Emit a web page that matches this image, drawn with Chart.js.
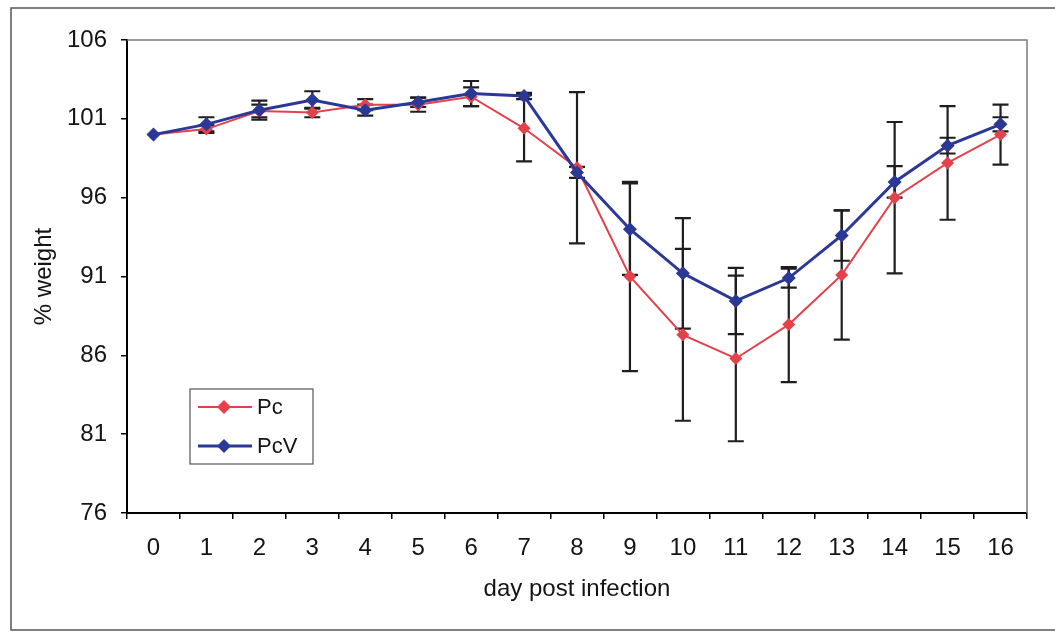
<!DOCTYPE html>
<html>
<head>
<meta charset="utf-8">
<script src="https://cdn.jsdelivr.net/npm/chart.js@4.4.1/dist/chart.umd.min.js"></script>
<style>
  html, body { margin: 0; padding: 0; background: #ffffff; }
  canvas { display: block; }
</style>
</head>
<body>
<canvas id="weightChart" width="1055" height="632"></canvas>
<script>
// Days after infection (category axis)
const days = ['0','1','2','3','4','5','6','7','8','9','10','11','12','13','14','15','16'];

// Mean body weight, % of starting weight
const pcWeight  = [100.0, 100.35, 101.5, 101.4, 101.9, 101.9, 102.4, 100.4, 97.9, 91.0, 87.3, 85.8, 87.95, 91.1, 96.0, 98.2, 100.0];
const pcvWeight = [100.0, 100.65, 101.55, 102.2, 101.55, 102.05, 102.6, 102.45, 97.6, 94.0, 91.2, 89.45, 90.9, 93.6, 97.0, 99.3, 100.65];

// Standard deviation of each mean
const pcError  = [0, 0.25, 0.4, 0.3, 0.35, 0.45, 0.6, 2.1, 4.8, 6.0, 5.45, 5.25, 3.65, 4.1, 4.8, 3.6, 1.9];
const pcvError = [0, 0.45, 0.6, 0.55, 0.35, 0.3, 0.8, 0.2, 0.35, 2.9, 3.5, 2.1, 0.6, 1.6, 1.0, 0.5, 0.45];

// Value axis ticks
const yTicks = [76, 81, 86, 91, 96, 101, 106];

const seriesNames  = ['Pc', 'PcV'];
const seriesColors = ['#e2434a', '#2b3896'];

const FONT = "'Liberation Sans', Arial, Helvetica, sans-serif";
const INK = '#141414';

// Outer frame around the whole figure
const framePlugin = {
  id: 'frame',
  beforeDraw(chart) {
    const ctx = chart.ctx;
    ctx.save();
    ctx.fillStyle = '#ffffff';
    ctx.fillRect(0, 0, chart.width, chart.height);
    ctx.strokeStyle = '#555555';
    ctx.lineWidth = 1.5;
    ctx.strokeRect(11, 8, chart.width + 20, 622);
    ctx.restore();
  },
  afterDraw(chart) {
    // grey border on the top and right of the plot area
    const {ctx, chartArea: a} = chart;
    ctx.save();
    ctx.strokeStyle = '#7a7a7a';
    ctx.lineWidth = 1.5;
    ctx.beginPath();
    ctx.moveTo(a.left, a.top);
    ctx.lineTo(a.right, a.top);
    ctx.lineTo(a.right, a.bottom);
    ctx.stroke();
    ctx.restore();
  }
};

// Vertical error bars with caps, placed through the chart scales
const errorBarPlugin = {
  id: 'errorBars',
  beforeDatasetsDraw(chart) {
    const ctx = chart.ctx;
    const xs = chart.scales.x, ys = chart.scales.y;
    const sets = [[pcWeight, pcError], [pcvWeight, pcvError]];
    ctx.save();
    ctx.strokeStyle = '#1e1e1e';
    ctx.lineWidth = 2.2;
    const cap = 8;
    sets.forEach(([vals, errs]) => {
      vals.forEach((v, i) => {
        const e = errs[i];
        if (!e) return;
        const x = xs.getPixelForValue(i);
        const yt = ys.getPixelForValue(v + e);
        const yb = ys.getPixelForValue(v - e);
        ctx.beginPath();
        ctx.moveTo(x, yt); ctx.lineTo(x, yb);
        ctx.moveTo(x - cap, yt); ctx.lineTo(x + cap, yt);
        ctx.moveTo(x - cap, yb); ctx.lineTo(x + cap, yb);
        ctx.stroke();
      });
    });
    ctx.restore();
  }
};

// Boxed legend inside the plot area
const boxLegendPlugin = {
  id: 'boxLegend',
  afterDraw(chart) {
    const ctx = chart.ctx;
    const box = {x: 190, y: 389, w: 123, h: 75};
    ctx.save();
    ctx.strokeStyle = '#555555';
    ctx.lineWidth = 1.2;
    ctx.strokeRect(box.x, box.y, box.w, box.h);
    ctx.font = '22px ' + FONT;
    ctx.textBaseline = 'middle';
    ctx.fillStyle = INK;
    seriesNames.forEach((name, i) => {
      const y = box.y + 18 + i * 39;
      ctx.strokeStyle = seriesColors[i];
      ctx.lineWidth = i === 0 ? 2 : 3;
      ctx.beginPath();
      ctx.moveTo(198, y); ctx.lineTo(252, y);
      ctx.stroke();
      ctx.fillStyle = seriesColors[i];
      ctx.beginPath();
      const r = 7;
      ctx.moveTo(224, y - r); ctx.lineTo(224 + r, y); ctx.lineTo(224, y + r); ctx.lineTo(224 - r, y);
      ctx.closePath();
      ctx.fill();
      ctx.fillStyle = INK;
      ctx.fillText(name, 257, y + 1);
    });
    ctx.restore();
  }
};

new Chart(document.getElementById('weightChart'), {
  type: 'line',
  data: {
    labels: days,
    datasets: [
      {
        label: seriesNames[0],
        data: pcWeight,
        borderColor: seriesColors[0],
        backgroundColor: seriesColors[0],
        borderWidth: 2,
        pointStyle: 'rectRot',
        pointRadius: 6.5,
        pointBorderWidth: 0,
        tension: 0,
        order: 2
      },
      {
        label: seriesNames[1],
        data: pcvWeight,
        borderColor: seriesColors[1],
        backgroundColor: seriesColors[1],
        borderWidth: 3,
        pointStyle: 'rectRot',
        pointRadius: 7,
        pointBorderWidth: 0,
        tension: 0,
        order: 1
      }
    ]
  },
  options: {
    responsive: false,
    animation: false,
    devicePixelRatio: 1,
    layout: { autoPadding: false, padding: { left: 0, top: 40, right: 28, bottom: 0 } },
    plugins: { legend: { display: false }, tooltip: { enabled: false } },
    scales: {
      x: {
        offset: true,
        afterFit(scale) { scale.height = 119; },
        grid: { offset: true, drawOnChartArea: false, drawTicks: true, tickLength: 6, color: '#000000', lineWidth: 1.5 },
        border: { display: true, color: '#000000', width: 2 },
        ticks: { color: INK, font: { family: FONT, size: 24 }, padding: 15, maxRotation: 0, autoSkip: false },
        title: { display: true, text: 'day post infection', color: INK, font: { family: FONT, size: 24 }, padding: { top: 0, bottom: 28 } }
      },
      y: {
        min: 76,
        max: 106,
        afterFit(scale) { scale.width = 127; },
        afterBuildTicks(scale) { scale.ticks = yTicks.map(v => ({ value: v })); },
        grid: { drawOnChartArea: false, drawTicks: true, tickLength: 6, color: '#000000', lineWidth: 1.5 },
        border: { display: true, color: '#000000', width: 2 },
        ticks: { color: INK, font: { family: FONT, size: 24 }, padding: 14 },
        title: { display: true, text: '% weight', color: INK, font: { family: FONT, size: 24 }, padding: { top: 30, bottom: 0 } }
      }
    }
  },
  plugins: [framePlugin, errorBarPlugin, boxLegendPlugin]
});
</script>
</body>
</html>
